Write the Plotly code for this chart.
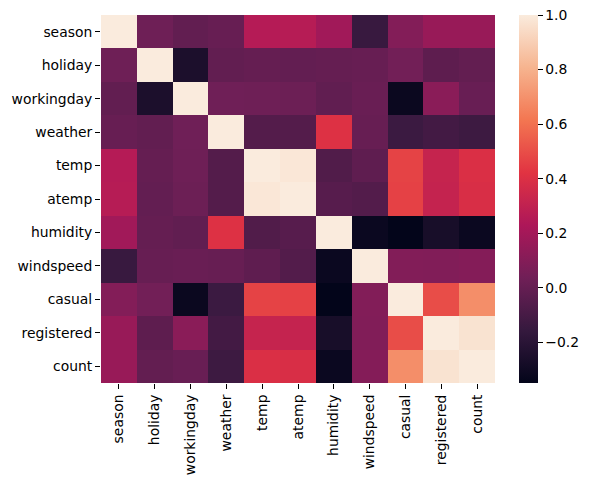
import plotly.graph_objects as go

labels = ["season", "holiday", "workingday", "weather", "temp", "atemp",
          "humidity", "windspeed", "casual", "registered", "count"]

season     = [1.000000, 0.029368, -0.008126, 0.008879, 0.258689, 0.264744, 0.190610, -0.147121, 0.096758, 0.164011, 0.163439]
holiday    = [0.029368, 1.000000, -0.250491, -0.007074, 0.000295, -0.005215, 0.001929, 0.008409, 0.043799, -0.020956, -0.005393]
workingday = [-0.008126, -0.250491, 1.000000, 0.033772, 0.029966, 0.024660, -0.010880, 0.013373, -0.319111, 0.119460, 0.011594]
weather    = [0.008879, -0.007074, 0.033772, 1.000000, -0.055035, -0.055376, 0.406244, 0.007261, -0.135918, -0.109340, -0.128655]
temp       = [0.258689, 0.000295, 0.029966, -0.055035, 1.000000, 0.984948, -0.064949, -0.017852, 0.467097, 0.318571, 0.394454]
atemp      = [0.264744, -0.005215, 0.024660, -0.055376, 0.984948, 1.000000, -0.043536, -0.057473, 0.462067, 0.314635, 0.389784]
humidity   = [0.190610, 0.001929, -0.010880, 0.406244, -0.064949, -0.043536, 1.000000, -0.318607, -0.348187, -0.265458, -0.317371]
windspeed  = [-0.147121, 0.008409, 0.013373, 0.007261, -0.017852, -0.057473, -0.318607, 1.000000, 0.092276, 0.091052, 0.101369]
casual     = [0.096758, 0.043799, -0.319111, -0.135918, 0.467097, 0.462067, -0.348187, 0.092276, 1.000000, 0.497250, 0.690414]
registered = [0.164011, -0.020956, 0.119460, -0.109340, 0.318571, 0.314635, -0.265458, 0.091052, 0.497250, 1.000000, 0.970948]
count      = [0.163439, -0.005393, 0.011594, -0.128655, 0.394454, 0.389784, -0.317371, 0.101369, 0.690414, 0.970948, 1.000000]

z = [season, holiday, workingday, weather, temp, atemp, humidity, windspeed, casual, registered, count]

cbar_vals = [-0.2, 0.0, 0.2, 0.4, 0.6, 0.8, 1.0]
cbar_text = ["\u22120.2", "0.0", "0.2", "0.4", "0.6", "0.8", "1.0"]

rocket = [
    [0.0, "#03051A"],
    [1/7, "#35193E"],
    [2/7, "#701F57"],
    [3/7, "#AD1759"],
    [4/7, "#E13342"],
    [5/7, "#F37651"],
    [6/7, "#F6B48F"],
    [1.0, "#FAEBDD"],
]

zmin = min(min(row) for row in z)
zmax = 1.0

font = dict(family="DejaVu Sans", size=13.9, color="#000000")

fig = go.Figure(go.Heatmap(
    z=z, x=labels, y=labels,
    colorscale=rocket, zmin=zmin, zmax=zmax,
    xgap=0, ygap=0,
    colorbar=dict(
        x=1.0605, xanchor="left", xref="paper",
        y=0, yanchor="bottom", len=1, lenmode="fraction",
        thickness=19, outlinewidth=0, ypad=0, xpad=0,
        tickvals=cbar_vals, ticktext=cbar_text,
        ticks="outside", ticklen=5, tickwidth=1.1, tickcolor="#000000",
        tickfont=font, ticklabeloverflow="allow",
    ),
))

fig.update_layout(
    width=578, height=469,
    margin=dict(l=93, r=88, t=7, b=94),
    paper_bgcolor="white", plot_bgcolor="white",
    font=font,
)
fig.update_xaxes(ticks="outside", ticklen=5, tickwidth=1.1, tickcolor="#000000",
                 tickangle=-90, showgrid=False, zeroline=False, showline=False,
                 tickfont=font, automargin=False)
fig.update_yaxes(ticks="outside", ticklen=5, tickwidth=1.1, tickcolor="#000000",
                 autorange="reversed", showgrid=False, zeroline=False, showline=False,
                 tickfont=font, automargin=False)

fig.write_html("out.html")
